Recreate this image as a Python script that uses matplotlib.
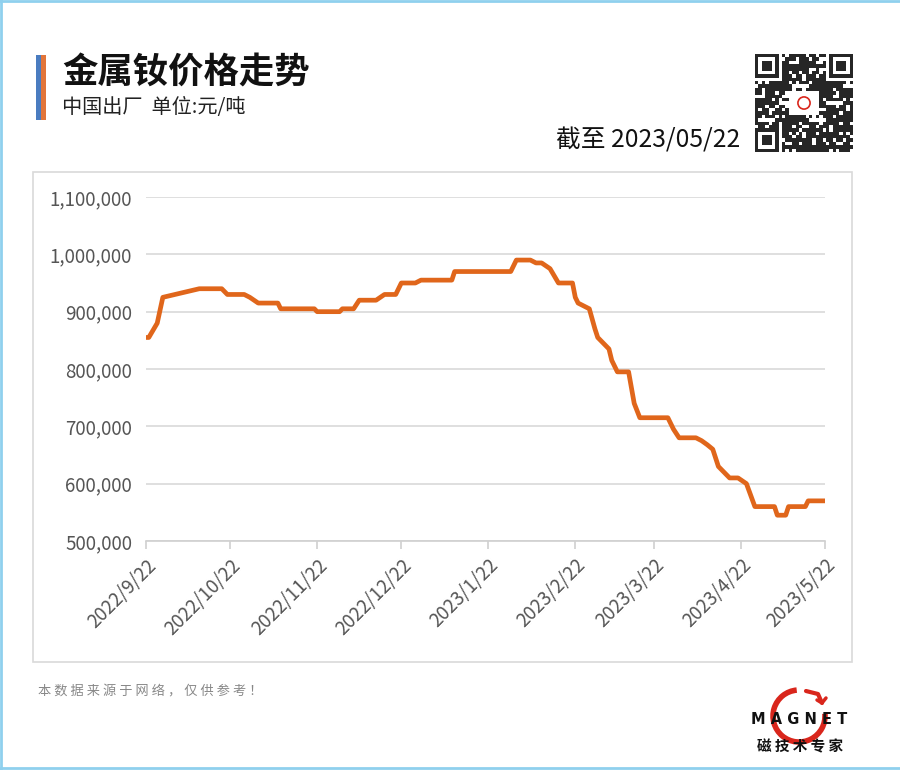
import matplotlib.pyplot as plt
from matplotlib.patches import Rectangle, Circle, Arc
import numpy as np
import pandas as pd

plt.rcParams['font.family'] = ['Noto Sans CJK SC', 'DejaVu Sans']

# price change points (date, yuan/ton)
dates = ['2022-09-22', '2022-09-23', '2022-09-26', '2022-09-28', '2022-10-11',
         '2022-10-19', '2022-10-21', '2022-10-27', '2022-10-29', '2022-11-01',
         '2022-11-08', '2022-11-09', '2022-11-21', '2022-11-22', '2022-11-30',
         '2022-12-01', '2022-12-05', '2022-12-07', '2022-12-13', '2022-12-16',
         '2022-12-20', '2022-12-22', '2022-12-27', '2022-12-29', '2023-01-09',
         '2023-01-10', '2023-01-30', '2023-02-01', '2023-02-06', '2023-02-08',
         '2023-02-10', '2023-02-13', '2023-02-16', '2023-02-21', '2023-02-22',
         '2023-02-23', '2023-02-27', '2023-03-01', '2023-03-02', '2023-03-06',
         '2023-03-07', '2023-03-09', '2023-03-13', '2023-03-15', '2023-03-17',
         '2023-03-27', '2023-03-29', '2023-03-31', '2023-04-06', '2023-04-08',
         '2023-04-10', '2023-04-12', '2023-04-14', '2023-04-18', '2023-04-21',
         '2023-04-24', '2023-04-27', '2023-05-04', '2023-05-05', '2023-05-08',
         '2023-05-09', '2023-05-15', '2023-05-16', '2023-05-22']
prices = [855000, 855000, 880000, 925000, 940000,
          940000, 930000, 930000, 925000, 915000,
          915000, 905000, 905000, 900000, 900000,
          905000, 905000, 920000, 920000, 930000,
          930000, 950000, 950000, 955000, 955000,
          970000, 970000, 990000, 990000, 985000,
          985000, 975000, 950000, 950000, 925000,
          915000, 905000, 870000, 855000, 835000,
          815000, 795000, 795000, 740000, 715000,
          715000, 695000, 680000, 680000, 675000,
          668000, 660000, 630000, 610000, 610000,
          600000, 560000, 560000, 545000, 545000,
          560000, 560000, 570000, 570000]

tick_dates = ['2022-09-22', '2022-10-22', '2022-11-22', '2022-12-22', '2023-01-22',
              '2023-02-22', '2023-03-22', '2023-04-22', '2023-05-22']
tick_labels = ['2022/9/22', '2022/10/22', '2022/11/22', '2022/12/22', '2023/1/22',
               '2023/2/22', '2023/3/22', '2023/4/22', '2023/5/22']
y_ticks = [500000, 600000, 700000, 800000, 900000, 1000000, 1100000]

x = pd.to_datetime(dates)
xt = pd.to_datetime(tick_dates)

fig = plt.figure(figsize=(9, 7.7), dpi=100)
fig.patch.set_facecolor('white')

# outer frame lines (light blue)
fig.add_artist(plt.Line2D([0.001, 0.001], [0, 1], color='#8fd0ee', lw=2))
fig.add_artist(plt.Line2D([0, 1], [0.999, 0.999], color='#8fd0ee', lw=2))
fig.add_artist(plt.Line2D([0, 1], [0.002, 0.002], color='#8fd0ee', lw=2))

# chart box
fig.add_artist(Rectangle((33 / 900, 1 - 662 / 770), 819 / 900, 490 / 770,
                         fill=False, edgecolor='#d9d9d9', lw=1.2))

# title bar
fig.add_artist(Rectangle((36 / 900, 1 - 120 / 770), 5 / 900, 65 / 770,
                         color='#4a7cc0', lw=0))
fig.add_artist(Rectangle((41 / 900, 1 - 120 / 770), 5 / 900, 65 / 770,
                         color='#e2753a', lw=0))
fig.text(62 / 900, 1 - 73 / 770, '金属钕价格走势', fontsize=25.5, fontweight='bold',
         va='center', ha='left', color='#111111')
fig.text(62 / 900, 1 - 108 / 770, '中国出厂  单位:元/吨', fontsize=14.5,
         va='center', ha='left', color='#222222')
fig.text(740 / 900, 1 - 141 / 770, '截至 2023/05/22', fontsize=17.8,
         va='center', ha='right', color='#111111')

# main axes
ax = fig.add_axes([146 / 900, 1 - 541 / 770, 679 / 900, 344 / 770])
ax.plot(x, prices, color='#e0661b', lw=3.4, solid_joinstyle='round', solid_capstyle='round')
ax.set_xlim(xt[0], xt[-1])
ax.set_ylim(500000, 1100000)
ax.set_yticks(y_ticks)
ax.set_yticklabels([f'{v:,}' for v in y_ticks])
ax.set_xticks(xt)
ax.set_xticklabels(tick_labels, rotation=45, ha='right', rotation_mode='anchor')
ax.grid(axis='y', color='#d9d9d9', lw=1.2)
ax.set_axisbelow(True)
for s in ['top', 'right', 'left']:
    ax.spines[s].set_visible(False)
ax.spines['bottom'].set_color('#d0d0d0')
ax.spines['bottom'].set_linewidth(1.2)
ax.tick_params(axis='y', length=0, pad=10, labelsize=13.5, labelcolor='#555555')
ax.tick_params(axis='x', length=6, color='#d0d0d0', width=1.2, pad=4,
               labelsize=13.5, labelcolor='#555555')

# footer note
fig.text(38 / 900, 1 - 692 / 770, '本 数 据 来 源 于 网 络 ， 仅 供 参 考 ！', fontsize=9.5,
         va='center', ha='left', color='#888888')

# MAGNET logo, drawn in pixel units of the figure
lax = fig.add_axes([740 / 900, 1 - 765 / 770, 120 / 900, 95 / 770])
lax.set_xlim(740, 860)
lax.set_ylim(765, 670)
lax.axis('off')
lax.add_patch(Arc((799, 716), 52, 52, theta1=-5, theta2=265, color='#d9261c', lw=4))
lax.plot([806, 818, 822], [691, 694, 703], color='#d9261c', lw=3, solid_capstyle='round')
lax.plot([826, 822, 817], [698, 703, 700], color='#d9261c', lw=2.5, solid_capstyle='round')
lax.text(799, 719, 'M A G N E T', fontsize=10.5, fontweight='bold', ha='center', va='center',
         color='#111111', family=['DejaVu Sans'])
lax.text(800, 746, '磁 技 术 专 家', fontsize=10.5, fontweight='bold', ha='center', va='center',
         color='#111111')

# QR-like code block (decorative pattern)
qax = fig.add_axes([755 / 900, 1 - 152 / 770, 98 / 900, 98 / 770])
n = 29
ii, jj = np.meshgrid(np.arange(n), np.arange(n))
grid = (((ii * 7 + jj * 13 + (ii * jj) % 5) % 3 != 0) |
        ((ii * 3 + jj * 5 + ii * ii) % 7 > 4)).astype(float)
for (r0, c0) in [(0, 0), (0, n - 7), (n - 7, 0)]:
    grid[r0:r0 + 8, c0 - (1 if c0 else 0):c0 + 8] = 0
    grid[r0:r0 + 7, c0:c0 + 7] = 1
    grid[r0 + 1:r0 + 6, c0 + 1:c0 + 6] = 0
    grid[r0 + 2:r0 + 5, c0 + 2:c0 + 5] = 1
grid[n - 8:n, 7] = 0
grid[7, 0:8] = 0
grid[11:18, 10:19] = 0
qax.imshow(grid, cmap='Greys', interpolation='nearest', vmin=0, vmax=1.15)
qax.add_patch(Circle((14, 14), 1.8, fill=False, edgecolor='#d9261c', lw=1.2))
qax.axis('off')

fig.savefig('out.png', dpi=100, facecolor='white')
